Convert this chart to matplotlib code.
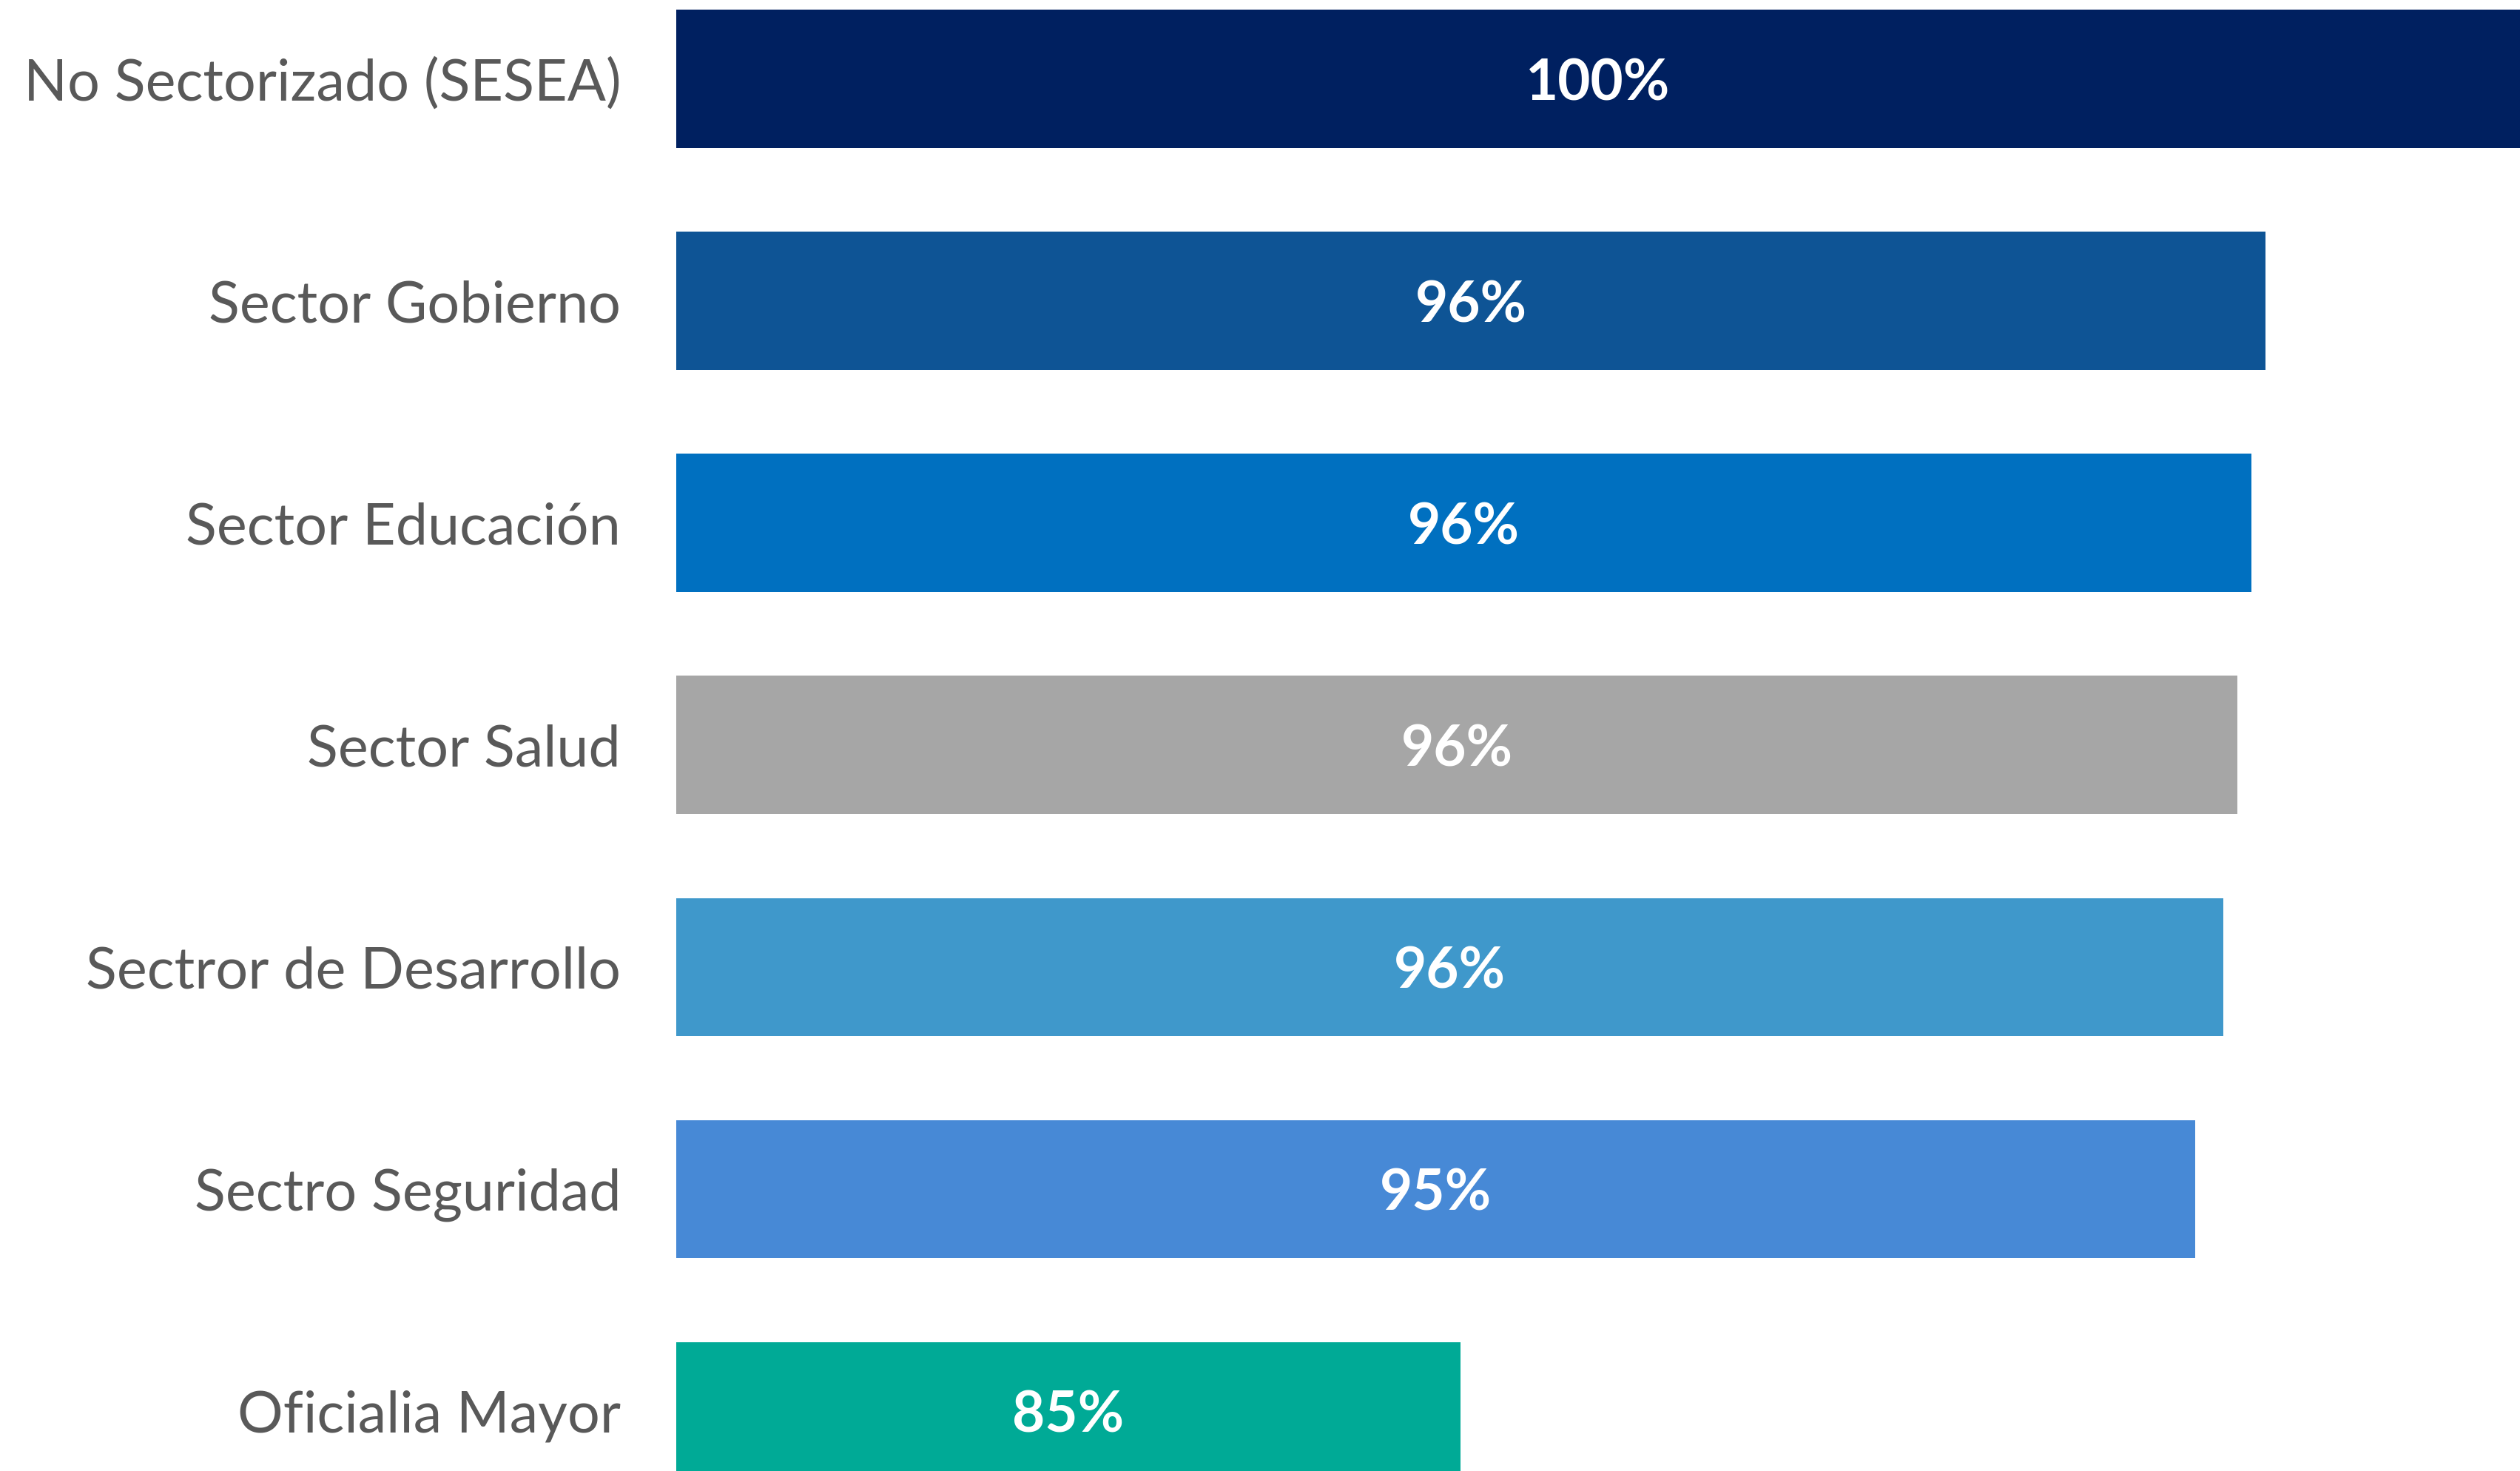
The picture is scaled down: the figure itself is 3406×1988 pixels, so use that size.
import matplotlib.pyplot as plt

# datos
categorias = ["No Sectorizado (SESEA)", "Sector Gobierno", "Sector Educación", "Sector Salud",
              "Sectror de Desarrollo", "Sectro Seguridad", "Oficialia Mayor"]
valores = [1.00, 0.964, 0.962, 0.960, 0.958, 0.954, 0.85]
colores = ["#002060", "#0E5495", "#0070C0", "#A6A6A6", "#3F98CB", "#4789D6", "#00AA96"]

plt.rcParams['font.family'] = ['Lato', 'DejaVu Sans']

fig = plt.figure(figsize=(17.03, 9.94), dpi=200)
ax = fig.add_axes([0.2684, 0.0, 0.7316, 1.0])

pos = list(range(len(categorias)))
barras = ax.barh(pos, valores, height=0.622, color=colores, left=0)

xmin = 0.739
ax.set_xlim(xmin, 1.0)
ax.set_ylim(6.27, -0.355)

for p, v in zip(pos, valores):
    ax.text((xmin + v) / 2, p, "{:.0f}%".format(v * 100), color="white",
            fontsize=27.5, fontweight="bold", ha="center", va="center_baseline")

ax.set_yticks(pos)
ax.set_yticklabels(categorias, fontsize=27.8, color="#595959")
ax.tick_params(axis="y", length=0, pad=27)
ax.set_xticks([])
for s in ax.spines.values():
    s.set_visible(False)

fig.savefig("out.png", dpi=200)
